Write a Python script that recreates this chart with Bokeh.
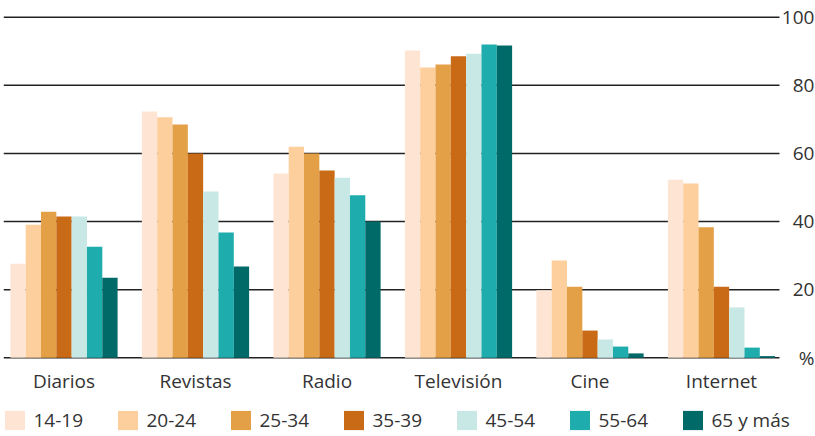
from bokeh.plotting import figure
from bokeh.models import ColumnDataSource, Legend, LegendItem, Range1d
from bokeh.core.properties import value
from bokeh.transform import dodge
from bokeh.embed import file_html
from bokeh.resources import INLINE

categories = ["Diarios", "Revistas", "Radio", "Televisión", "Cine", "Internet"]
groups = ["14-19", "20-24", "25-34", "35-39", "45-54", "55-64", "65 y más"]
v_14_19 = [27.6, 72.3, 54.1, 90.2, 19.8, 52.3]
v_20_24 = [39.1, 70.6, 62.0, 85.2, 28.6, 51.2]
v_25_34 = [42.9, 68.5, 60.0, 86.1, 20.9, 38.3]
v_35_39 = [41.5, 60.0, 55.0, 88.5, 8.0, 20.9]
v_45_54 = [41.5, 48.8, 52.9, 89.3, 5.4, 14.8]
v_55_64 = [32.6, 36.8, 47.7, 92.0, 3.3, 3.0]
v_65_mas = [23.5, 26.8, 40.0, 91.7, 1.3, 0.5]
colors = ["#FDE4D3", "#FDCF9C", "#E3A047", "#C96A17", "#C8E8E5", "#1EACAC", "#006A69"]
y_ticks = [0, 20, 40, 60, 80, 100]
y_tick_labels = ["%", "20", "40", "60", "80", "100"]

series = [v_14_19, v_20_24, v_25_34, v_35_39, v_45_54, v_55_64, v_65_mas]
cols = ["s%d" % i for i in range(len(groups))]
data = {"x": list(range(len(categories))), "cat": categories}
for c, s in zip(cols, series):
    data[c] = s
src = ColumnDataSource(data)
tick_src = ColumnDataSource({"y": y_ticks, "lab": y_tick_labels})

FONT = "Open Sans"
TXT = "#333333"
FS = "19px"

# layout constants (pixels -> category units: 131.5 px per category)
X_LEFT = -0.46          # frame left edge
GRID_END = 5.441        # where the horizontal rules stop
LABEL_X = 5.707         # right edge of the value labels
X_RIGHT = 5.7149        # frame right edge (page edge)

p = figure(width=815, height=436, x_range=Range1d(X_LEFT, X_RIGHT),
           y_range=Range1d(-23.1, 104.9), x_axis_location=None,
           y_axis_location=None,
           output_backend="svg", toolbar_location=None,
           min_border_left=3, min_border_right=0, min_border_top=0,
           min_border_bottom=0)
p.outline_line_color = None
p.background_fill_color = "white"
p.xgrid.grid_line_color = None
p.ygrid.grid_line_color = None

# horizontal rules at the value ticks
p.segment(x0=X_LEFT, x1=GRID_END, y0="y", y1="y", source=tick_src,
          line_color="#222222", line_width=1.6)

bw = 0.1165
items = []
for i, (c, g, col) in enumerate(zip(cols, groups, colors)):
    r = p.vbar(x=dodge("x", (i - 3) * bw, range=p.x_range), top=c, bottom=0,
               width=bw, source=src, fill_color=col, line_color=None)
    items.append(LegendItem(label=g, renderers=[r]))

# category labels under the groups
p.text(x="x", y=-6.8, text="cat", source=src, text_align="center",
       text_baseline="alphabetic", text_font=value(FONT),
       text_font_size=value(FS), text_color=TXT)

# value labels on the right, right-aligned
p.text(x=LABEL_X, y="y", text="lab", source=tick_src, text_align="right",
       text_baseline="middle", text_font=value(FONT),
       text_font_size=value(FS), text_color=TXT)

legend = Legend(items=items, orientation="horizontal", location=(-1.5, 3.5),
                margin=0, padding=0, spacing=0, glyph_width=25, glyph_height=24,
                label_standoff=7, label_width=81, label_height=26,
                border_line_color=None, background_fill_alpha=0,
                label_text_font=FONT, label_text_font_size=FS,
                label_text_color=TXT)
p.add_layout(legend, "center")

open("out.html", "w").write(file_html(p, INLINE))
